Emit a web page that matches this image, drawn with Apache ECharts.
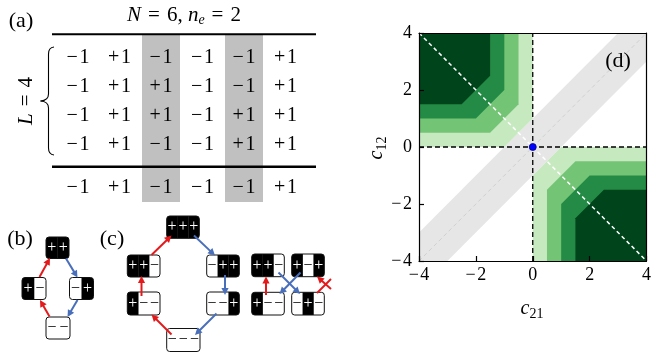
<!DOCTYPE html>
<html><head><meta charset="utf-8">
<script src="https://cdn.jsdelivr.net/npm/echarts@6/dist/echarts.min.js"></script>
<style>html,body{margin:0;padding:0;background:#fff}#c{width:654px;height:356px}</style>
</head><body><div id="c"></div>
<script>
// ---------------- data ----------------
const tableRows = [
  ['−1','+1','−1','−1','−1','+1'],
  ['−1','+1','+1','−1','−1','+1'],
  ['−1','+1','+1','−1','+1','+1'],
  ['−1','+1','−1','−1','+1','+1']
];
const tableResult = ['−1','+1','−1','−1','−1','+1'];
const highlightedColumns = [2, 4];
const panelBStates = ['++','+−','−+','−−'];
const panelCStates = ['+++','++−','−++','+−−','−−+','−−−'];
const panelCExtraStates = ['++−','+−+','+−−','−+−'];
const contourThresholds = [1, 2, 3, 4];
const contourOffsets = [0, 0.5, 1, 1.5];
const contourColors = ['#c7e9c0', '#74c476', '#238b45', '#00441b'];
const bandHalfWidth = 1;
const axisMin = -4, axisMax = 4, axisInterval = 2;
const fixedPoint = [0, 0];

// ---------------- layout ----------------
const SERIF = 'Liberation Serif';
const els = [];
function txt(t, x, y, size, opt) {
  opt = opt || {};
  els.push(Object.assign({type:'text', z: opt.z || 20, style: Object.assign({text:t, x:x, y:y, align:'center', verticalAlign:'middle', fill:'#000', fontFamily:SERIF, fontSize:size}, opt.style || {})}, opt.el || {}));
}
// panel (a)
const T = {x0:78, dx:41.5, y0:58, dy:28.9, resY:188, ruleL:52, ruleR:316, shadeTop:34, shadeBot:202, shadeW:38};
highlightedColumns.forEach(c => {
  els.push({type:'rect', z:1, shape:{x:T.x0 + c*T.dx - T.shadeW/2, y:T.shadeTop, width:T.shadeW, height:T.shadeBot - T.shadeTop}, style:{fill:'#c0c0c0'}});
});
els.push({type:'rect', z:5, shape:{x:T.ruleL, y:33.3, width:T.ruleR - T.ruleL, height:2}, style:{fill:'#000'}});
els.push({type:'rect', z:5, shape:{x:T.ruleL, y:165.6, width:T.ruleR - T.ruleL, height:2.4}, style:{fill:'#000'}});
const cell = v => v.charAt(0) + '\u200A' + v.slice(1);
tableRows.forEach((row, r) => row.forEach((v, c) => txt(cell(v), T.x0 + c*T.dx, T.y0 + r*T.dy, 20)));
tableResult.forEach((v, c) => txt(cell(v), T.x0 + c*T.dx, T.resY, 20));
txt('(a)', 21, 21, 22);
els.push({type:'text', z:20, style:{text:'{i|N}\u2004=\u20046, {i|n}{s|e}\u2004=\u20042', x:184, y:15, align:'center', verticalAlign:'middle', fontFamily:SERIF, fontSize:21, fill:'#000',
  rich:{i:{fontStyle:'italic', fontFamily:SERIF, fontSize:21, lineHeight:25}, s:{fontStyle:'italic', fontFamily:SERIF, fontSize:14, verticalAlign:'bottom', lineHeight:14}}}});
els.push({type:'text', z:20, x:26, y:101, rotation:Math.PI/2, style:{text:'{i|L}\u2004=\u20044', x:0, y:0, align:'center', verticalAlign:'middle', fontFamily:SERIF, fontSize:21, fill:'#000', rich:{i:{fontStyle:'italic', fontFamily:SERIF, fontSize:21}}}});
// curly brace
const braceStyle = {fill:'none', stroke:'#000', lineWidth:1.1};
els.push({type:'bezierCurve', z:20, shape:{x1:54, y1:47, cpx1:48.5, cpy1:47.5, x2:48.5, y2:54}, style:braceStyle});
els.push({type:'line', z:20, shape:{x1:48.5, y1:54, x2:48.5, y2:94}, style:braceStyle});
els.push({type:'bezierCurve', z:20, shape:{x1:48.5, y1:94, cpx1:48.5, cpy1:100.5, x2:40.5, y2:101}, style:braceStyle});
els.push({type:'bezierCurve', z:20, shape:{x1:40.5, y1:101, cpx1:48.5, cpy1:101.5, x2:48.5, y2:108}, style:braceStyle});
els.push({type:'line', z:20, shape:{x1:48.5, y1:108, x2:48.5, y2:148}, style:braceStyle});
els.push({type:'bezierCurve', z:20, shape:{x1:48.5, y1:148, cpx1:48.5, cpy1:154.5, x2:54, y2:155}, style:braceStyle});

// state boxes and arrows
const RED = '#e31a1c', BLUE = '#4a6fba';
function stateBox(label, b) {
  const chars = Array.from(label), n = chars.length, sw = b.w / n;
  els.push({type:'rect', z:10, shape:{x:b.x, y:b.y, width:b.w, height:b.h, r:3}, style:{fill:'#fff'}});
  chars.forEach((ch, i) => {
    if (ch === '+') els.push({type:'rect', z:11, shape:{x:b.x + i*sw, y:b.y, width:sw + (i < n-1 ? 0.3 : 0), height:b.h, r:[i===0?3:0, i===n-1?3:0, i===n-1?3:0, i===0?3:0]}, style:{fill:'#000'}});
  });
  chars.forEach((ch, i) => txt(ch, b.x + (i+0.5)*sw, b.y + b.h/2, 16, {z:12, style:{fill: ch === '+' ? '#fff' : '#000'}}));
  els.push({type:'rect', z:13, shape:{x:b.x, y:b.y, width:b.w, height:b.h, r:3}, style:{fill:'none', stroke:'#111', lineWidth:1}});
}
function arrow(a) {
  const x1 = a.p[0], y1 = a.p[1], x2 = a.p[2], y2 = a.p[3], col = a.c === 'r' ? RED : BLUE;
  const dx = x2 - x1, dy = y2 - y1, len = Math.hypot(dx, dy), ux = dx/len, uy = dy/len;
  const hl = 7, hw = 3.6, head = a.head !== false;
  const bx = head ? x2 - ux*hl : x2, by = head ? y2 - uy*hl : y2;
  els.push({type:'line', z:15, shape:{x1:x1, y1:y1, x2:bx + (head ? ux : 0), y2:by + (head ? uy : 0)}, style:{stroke:col, lineWidth:2}});
  if (head) els.push({type:'polygon', z:15, shape:{points:[[x2, y2], [bx - uy*hw, by + ux*hw], [bx + uy*hw, by - ux*hw]]}, style:{fill:col}});
}
txt('(b)', 20, 239, 22);
txt('(c)', 112, 239, 22);
const boxesB = [{x:46, y:237, w:23, h:21.5}, {x:22, y:277.5, w:24, h:22}, {x:69.5, y:277.5, w:24, h:22}, {x:46, y:317, w:24, h:22}];
panelBStates.forEach((s, i) => stateBox(s, boxesB[i]));
[{p:[39.5, 277, 50, 258], c:'r'}, {p:[49.5, 316.5, 40, 300], c:'r'}, {p:[66, 258.5, 77.5, 277.5], c:'b'}, {p:[77.5, 300, 67.5, 317], c:'b'}].forEach(arrow);
const boxesC = [{x:166.7, y:216, w:32.6, h:22.3}, {x:127.3, y:255, w:32.7, h:22}, {x:206.7, y:255, w:32.6, h:22}, {x:127.3, y:292, w:32.7, h:23}, {x:206.7, y:292, w:32.6, h:23}, {x:166.7, y:328.5, w:33.3, h:23}];
panelCStates.forEach((s, i) => stateBox(s, boxesC[i]));
[{p:[151.5, 255, 171.5, 235.5], c:'r'}, {p:[194, 235.5, 215, 255.5], c:'b'}, {p:[141.5, 296, 141.5, 276], c:'r'}, {p:[225, 275, 225, 295], c:'b'}, {p:[216.5, 313.5, 195, 335], c:'b'}, {p:[171.5, 334.5, 151.5, 314.5], c:'r'}].forEach(arrow);
const boxesX = [{x:251.7, y:254, w:32.6, h:22.7}, {x:291.7, y:254, w:32.6, h:22.7}, {x:251.7, y:292.3, w:32.6, h:22.7}, {x:291.7, y:292.3, w:32.6, h:22.7}];
panelCExtraStates.forEach((s, i) => stateBox(s, boxesX[i]));
[{p:[266, 295, 266, 276.5], c:'r'}, {p:[278.5, 272.5, 300, 294], c:'b'}, {p:[300.5, 272.5, 279.5, 294], c:'b'}, {p:[331, 289, 317, 276.5], c:'r'}, {p:[317, 293, 331, 279], c:'r', head:false}].forEach(arrow);

// panel (d) labels
txt('(d)', 618, 61, 22);
els.push({type:'text', z:20, x:532, y:309, style:{text:'{i|c}{s|21}', x:0, y:0, align:'center', verticalAlign:'middle', fontFamily:SERIF, fontSize:20, fill:'#000',
  rich:{i:{fontStyle:'italic', fontFamily:SERIF, fontSize:20, lineHeight:24}, s:{fontFamily:SERIF, fontSize:14, verticalAlign:'bottom', lineHeight:14}}}});
els.push({type:'text', z:20, x:377, y:148, rotation:Math.PI/2, style:{text:'{i|c}{s|12}', x:0, y:0, align:'center', verticalAlign:'middle', fontFamily:SERIF, fontSize:20, fill:'#000',
  rich:{i:{fontStyle:'italic', fontFamily:SERIF, fontSize:20, lineHeight:24}, s:{fontFamily:SERIF, fontSize:14, verticalAlign:'bottom', lineHeight:14}}}});

// ---------------- contour polygons ----------------
const polys = [];
const lo = axisMin, hi = axisMax, w = bandHalfWidth;
polys.push({color:'#e6e6e6', pts:[[lo, lo], [lo + w, lo], [hi, hi - w], [hi, hi], [hi - w, hi], [lo, lo + w]]});
contourThresholds.forEach((t, k) => {
  const o = contourOffsets[k], col = contourColors[k];
  polys.push({color:col, pts:[[lo, hi], [-o, hi], [-o, t - o], [o - t, o], [lo, o]]});
  polys.push({color:col, pts:[[hi, lo], [o, lo], [o, o - t], [t - o, -o], [hi, -o]]});
});

const labelFmt = v => String(v).replace('-', '−\u200A');
const axisCommon = {type:'value', min:axisMin, max:axisMax, interval:axisInterval, splitLine:{show:false}, z:10};
const lblStyle = {color:'#000', fontFamily:SERIF, fontSize:18, formatter:labelFmt};
const lineBlack = {show:true, onZero:false, lineStyle:{color:'#000', width:1.2}};
const option = {
  animation:false,
  grid:{left:419, top:33, width:228, height:228},
  xAxis:[
    Object.assign({}, axisCommon, {position:'bottom', axisLine:lineBlack, axisTick:{show:true, inside:true, length:5, lineStyle:{color:'#000', width:1.2}}, axisLabel:Object.assign({margin:5}, lblStyle)}),
    Object.assign({}, axisCommon, {position:'top', axisLine:lineBlack, axisTick:{show:false}, axisLabel:{show:false}})
  ],
  yAxis:[
    Object.assign({}, axisCommon, {position:'left', axisLine:lineBlack, axisTick:{show:true, inside:true, length:5, lineStyle:{color:'#000', width:1.2}}, axisLabel:Object.assign({margin:7}, lblStyle)}),
    Object.assign({}, axisCommon, {position:'right', axisLine:lineBlack, axisTick:{show:false}, axisLabel:{show:false}})
  ],
  series:[
    {type:'custom', coordinateSystem:'cartesian2d', xAxisIndex:0, yAxisIndex:0, z:1, data:polys.map(p => p.pts[0]),
      renderItem:(params, api) => {
        const p = polys[params.dataIndex];
        return {type:'polygon', shape:{points:p.pts.map(q => api.coord(q))}, style:{fill:p.color}};
      }},
    {type:'line', z:3, symbol:'none', data:[[axisMin, axisMin], [axisMax, axisMax]], lineStyle:{color:'#cfcfcf', width:1, type:[4, 3]}},
    {type:'line', z:3, symbol:'none', data:[[axisMin, axisMax], [axisMax, axisMin]], lineStyle:{color:'#ffffff', width:1.5, type:[4, 3]}},
    {type:'line', z:4, symbol:'none', data:[[0, axisMin], [0, axisMax]], lineStyle:{color:'#000', width:1.3, type:[5, 3]}},
    {type:'line', z:4, symbol:'none', data:[[axisMin, 0], [axisMax, 0]], lineStyle:{color:'#000', width:1.3, type:[5, 3]}},
    {type:'scatter', z:5, data:[fixedPoint], symbolSize:7, itemStyle:{color:'#0000ff', borderColor:'#000080', borderWidth:0.8, opacity:1}}
  ],
  graphic:{elements:els}
};
const chart = echarts.init(document.getElementById('c'), null, {renderer:'canvas'});
chart.setOption(option);
</script></body></html>
